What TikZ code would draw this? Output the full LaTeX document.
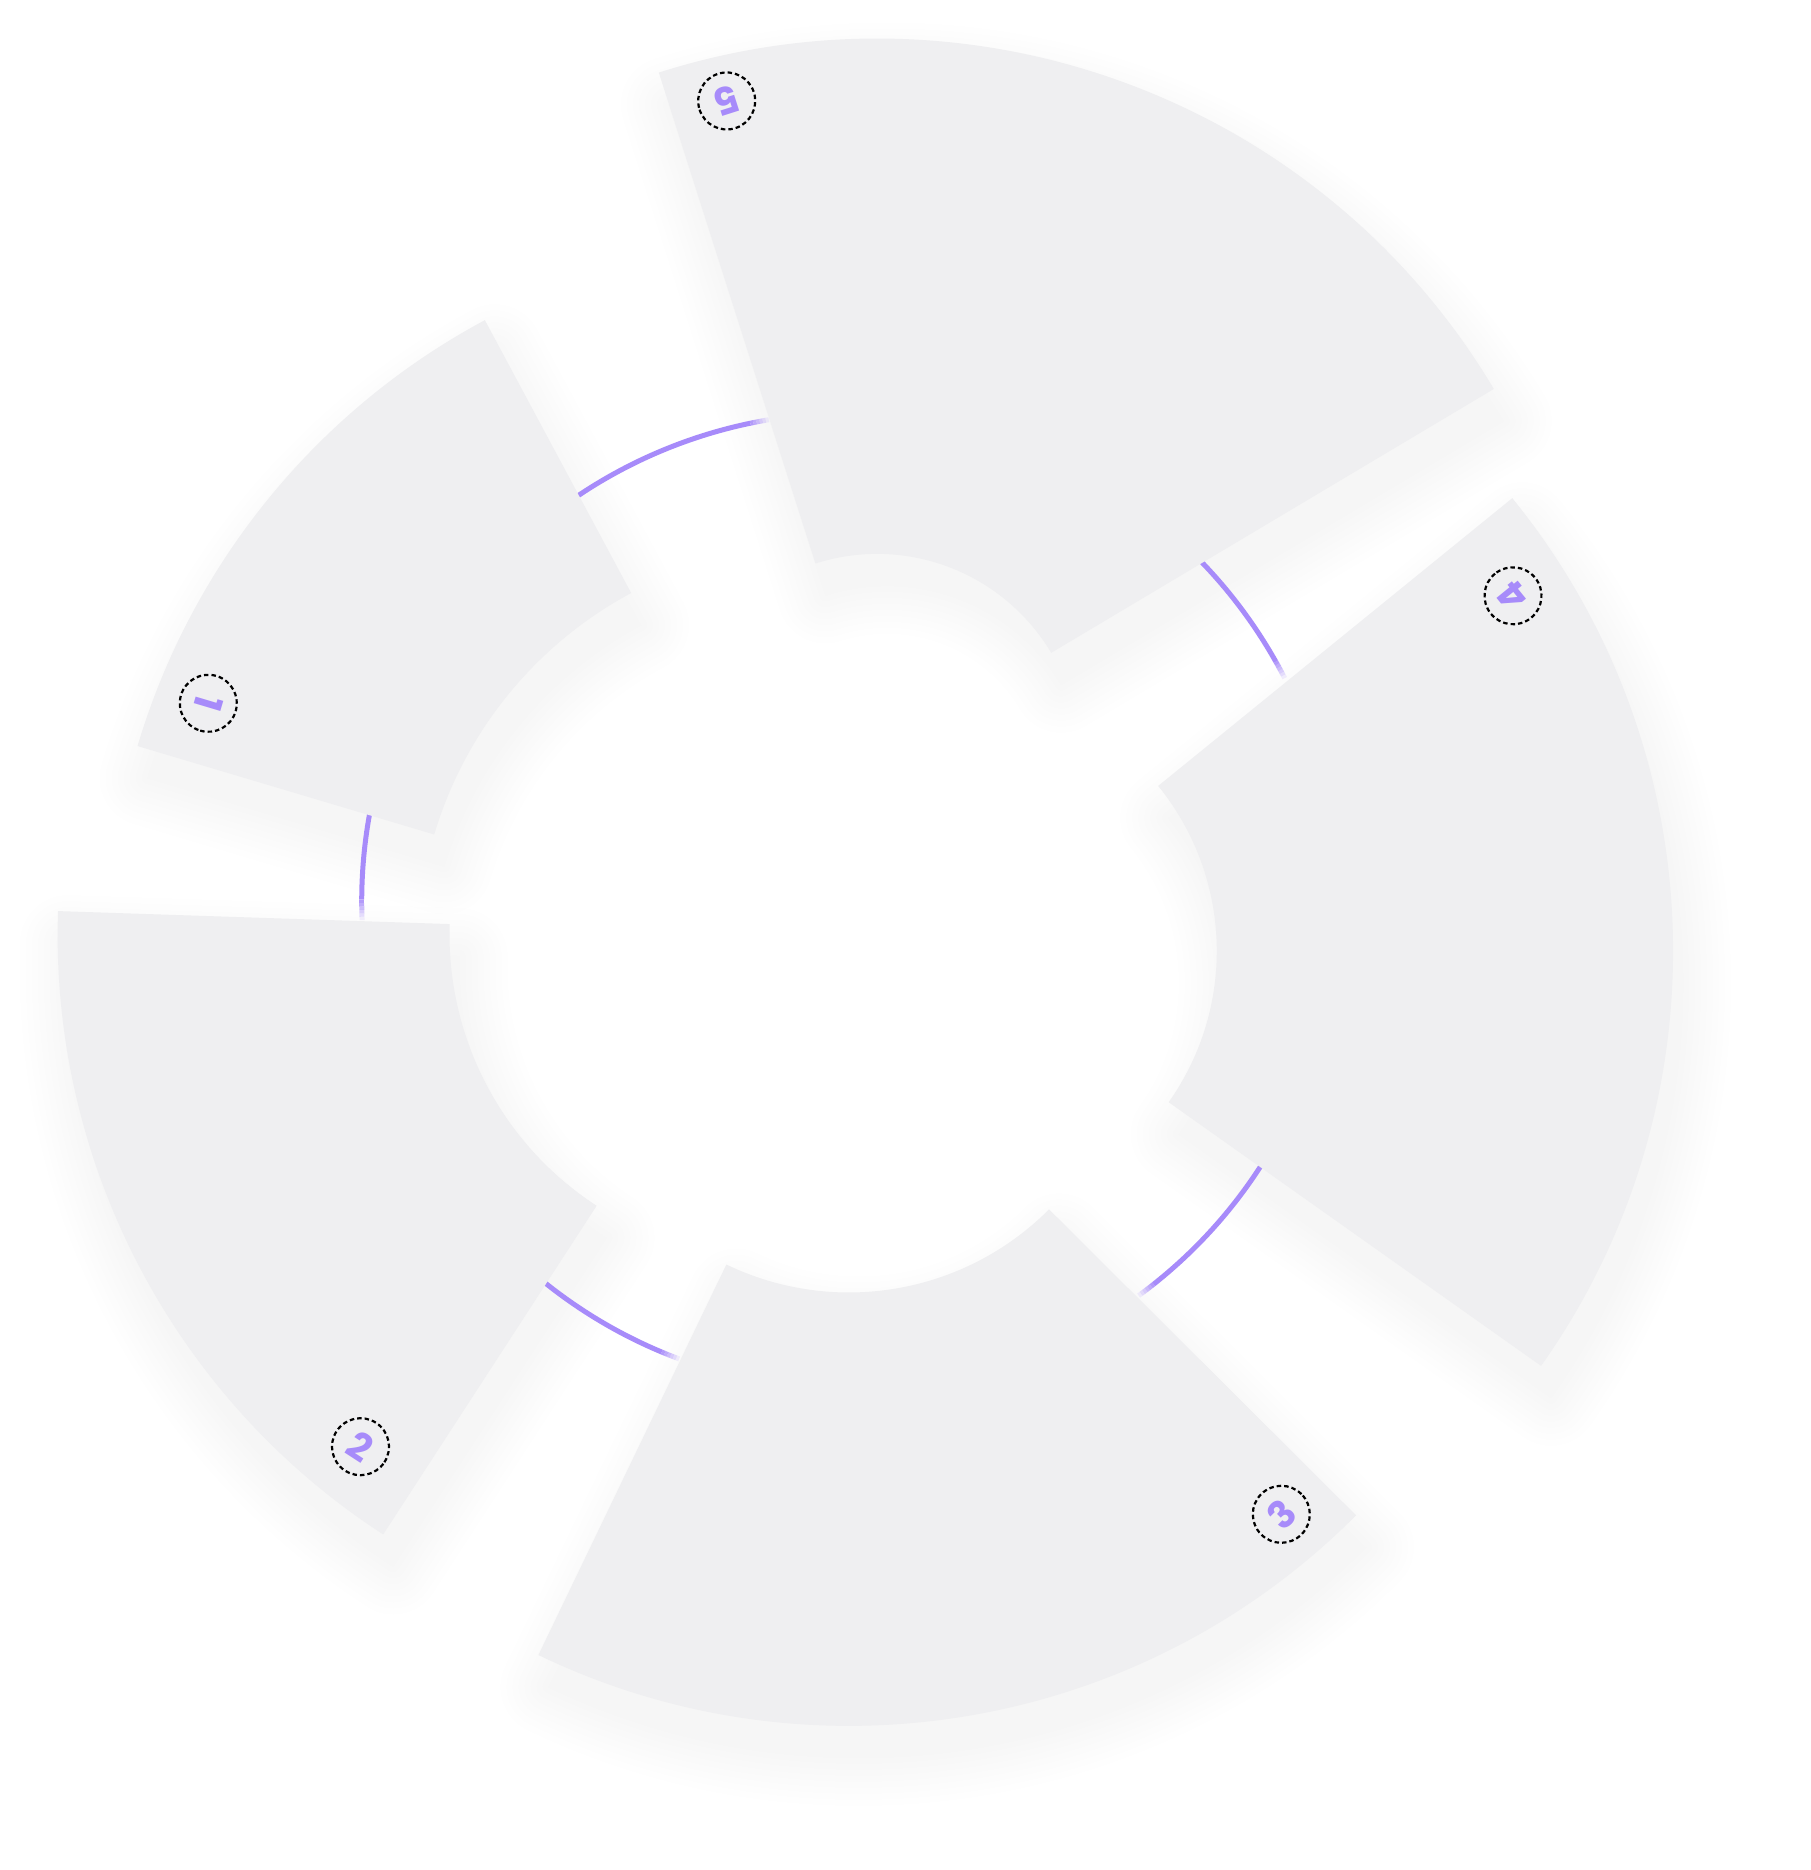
\documentclass[tikz,border=0pt]{standalone}
\usepackage{fontspec}
\setmainfont{Poppins}
\definecolor{sect}{RGB}{239,239,241}
\definecolor{vio}{RGB}{167,139,250}
\tikzset{
  vioarc/.style={draw=vio, line width=5pt},
  numc/.style={circle, draw=black, line width=2.2pt, dash pattern=on 4.5pt off 3pt,
    minimum size=57pt, inner sep=0pt, text=vio, font=\bfseries\fontsize{38}{38}\selectfont},
}
% #1 cx, #2 cy, #3 a1, #4 a2, #5 rin, #6 rout, #7 options
\newcommand\sectorshape[7]{%
  \path[#7] ([shift={(#1,#2)}]#3:#6) arc[start angle=#3, end angle=#4, radius=#6]
    -- ([shift={(#1,#2)}]#4:#5) arc[start angle=#4, end angle=#3, radius=#5] -- cycle;}
\newcommand\sectorshadow[6]{%
  \begin{scope}[shift={(10,-32)}]
    \foreach \w in {96,84,...,0}{%
      \begin{scope}[transparency group, opacity=0.0055]
        \sectorshape{#1}{#2}{#3}{#4}{#5}{#6}{fill=black, draw=black, line width=\w pt, line join=round}
      \end{scope}}
  \end{scope}}
% #1 crisp end, #2 start of fade, #3 fade end
\newcommand\linkarc[3]{%
  \draw[vioarc] ([shift={(850.2,968.6)}]#1:488.5) arc[start angle=#1, end angle=#2, radius=488.5];
  \foreach \i in {1,...,6}{%
    \pgfmathsetmacro\sa{#2+(#3-#2)*(\i-1)/6}%
    \pgfmathsetmacro\ea{#2+(#3-#2)*\i/6}%
    \pgfmathsetmacro\op{1-\i/7}%
    \draw[vioarc, draw opacity=\op] ([shift={(850.2,968.6)}]\sa:488.5) arc[start angle=\sa, end angle=\ea, radius=488.5];}}
\begin{document}
\begin{tikzpicture}[x=1pt,y=1pt]
\useasboundingbox (0,0) rectangle (1810,1870);
\fill[white] (0,0) rectangle (1810,1870);
% shadows
\sectorshadow{877.1}{1113.4}{30.8}{107.7}{202.7}{718}
\sectorshadow{955.1}{919.0}{-35.3}{39.1}{261.7}{718}
\sectorshadow{848.9}{860.1}{244.3}{315.1}{282.6}{716}
\sectorshadow{772.6}{935.2}{178.1}{237}{323.1}{715}
\sectorshadow{822.7}{919.7}{118.2}{163.4}{405.4}{715}
% connecting arcs
\linkarc{127}{101.8}{99.6}
\linkarc{47}{29.4}{27.2}
\linkarc{-30}{-51.6}{-53.8}
\linkarc{228}{247.3}{249.5}
\linkarc{166}{179.8}{182.2}
% sectors
\sectorshape{877.1}{1113.4}{30.8}{107.7}{202.7}{718}{fill=sect}
\sectorshape{955.1}{919.0}{-35.3}{39.1}{261.7}{718}{fill=sect}
\sectorshape{848.9}{860.1}{244.3}{315.1}{282.6}{716}{fill=sect}
\sectorshape{772.6}{935.2}{178.1}{237}{323.1}{715}{fill=sect}
\sectorshape{822.7}{919.7}{118.2}{163.4}{405.4}{715}{fill=sect}
% numbers
\node[numc, rotate=197.7] (nT) at (726.7,1769) {5};
\node[numc, rotate=253.4] (nLT) at (208.3,1166.7) {1};
\node[numc, rotate=327] (nLB) at (360.5,423.3) {2};
\node[numc, rotate=45] (nB) at (1281.3,355.7) {3};
\node[numc, rotate=129.1] (nR) at (1513,1274.2) {4};
\end{tikzpicture}
\end{document}
